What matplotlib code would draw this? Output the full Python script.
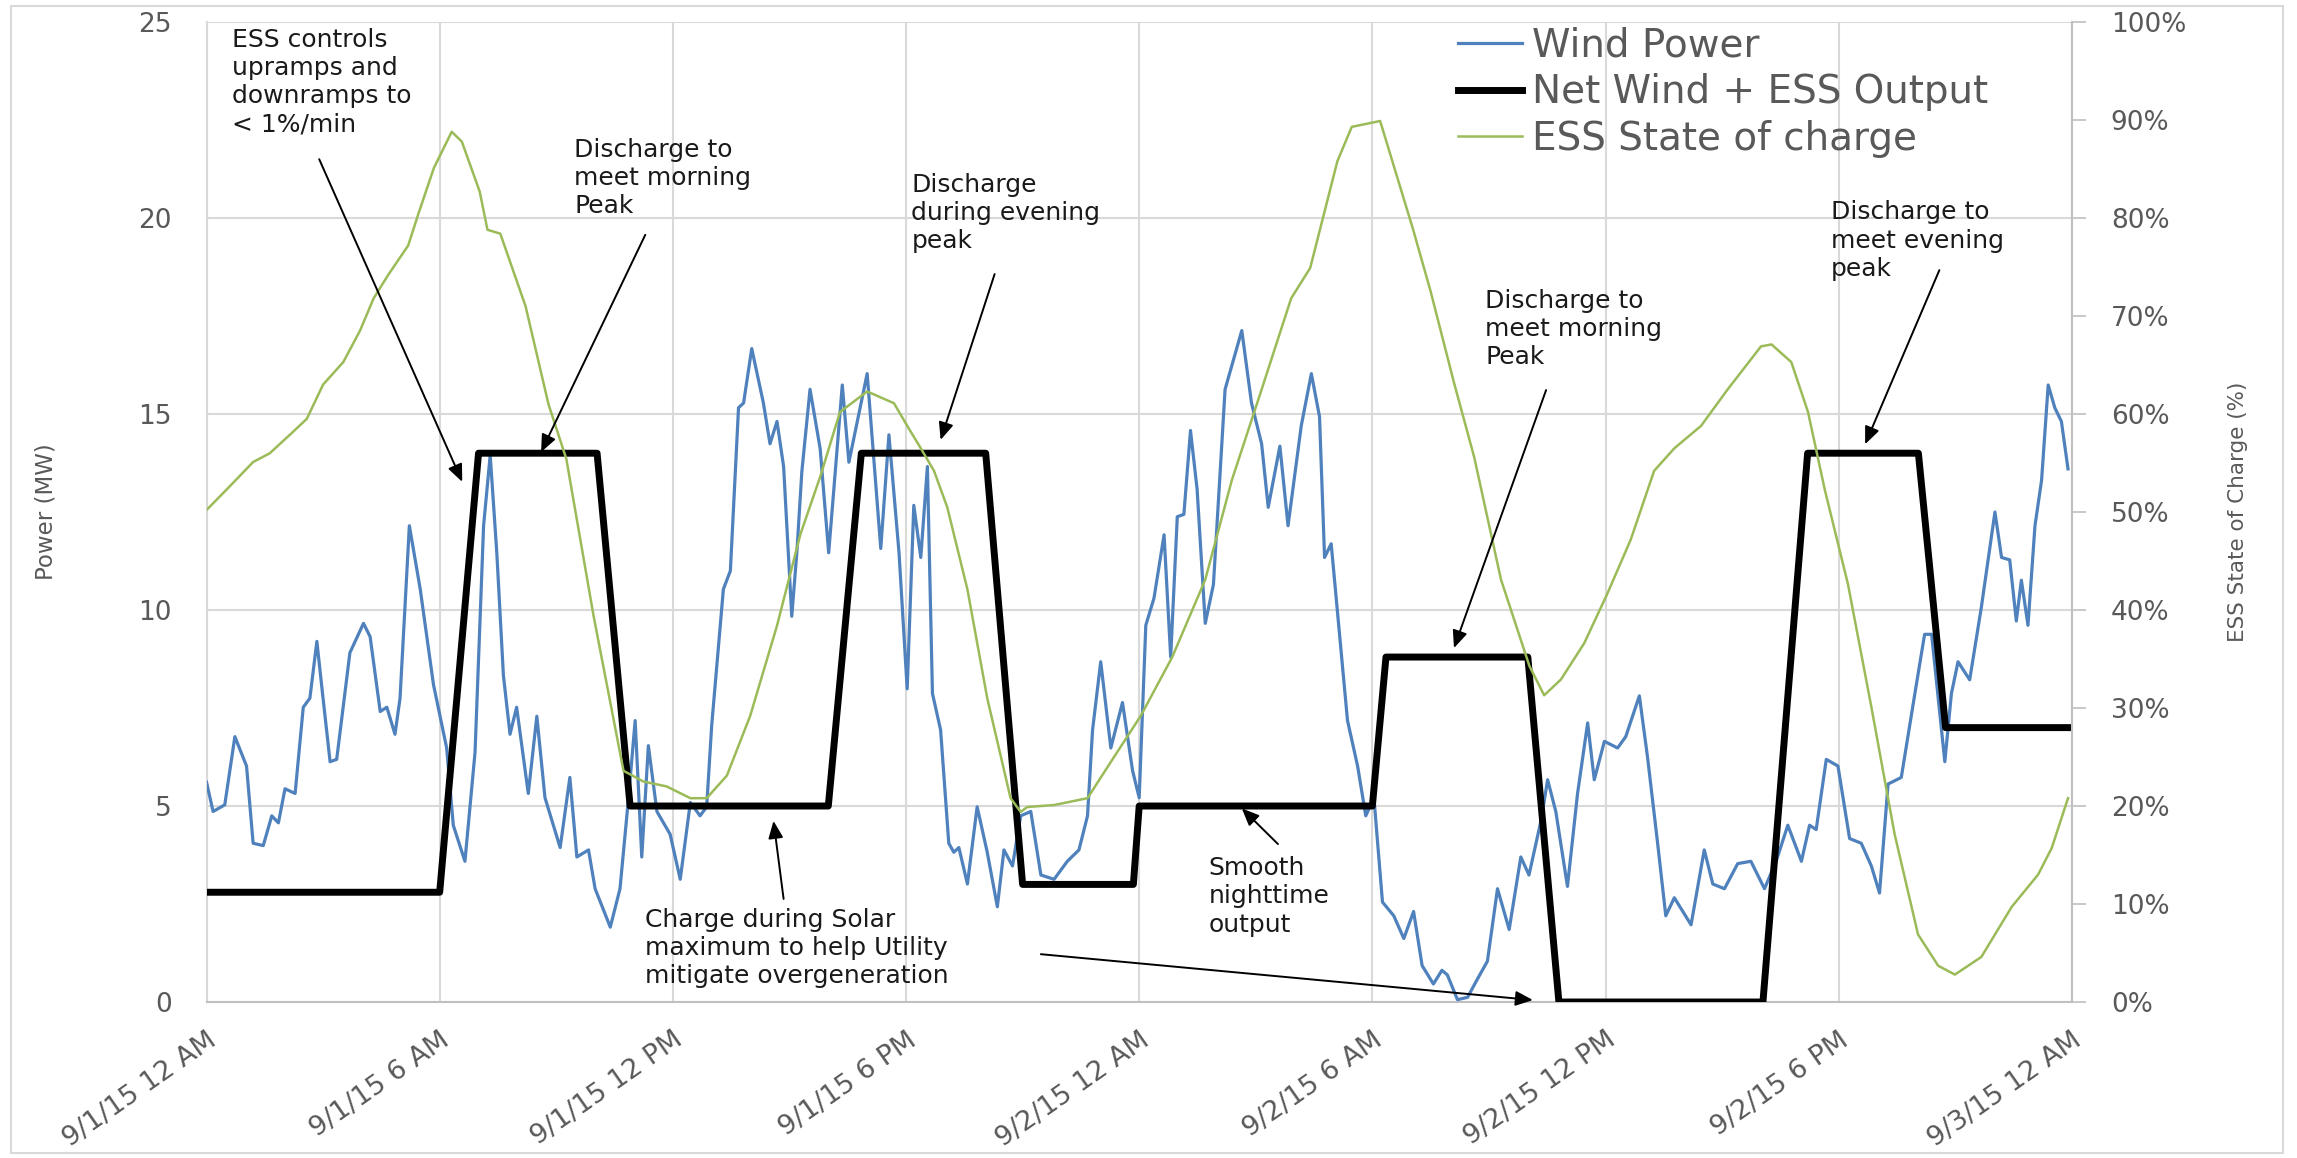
import matplotlib
matplotlib.use("Agg")
import matplotlib.pyplot as plt
from matplotlib.patches import Rectangle
from matplotlib.ticker import FuncFormatter

# x axis is hours after 9/1/15 12 AM
tick_hours = [0, 6, 12, 18, 24, 30, 36, 42, 48]
tick_labels = ["9/1/15 12 AM", "9/1/15 6 AM", "9/1/15 12 PM", "9/1/15 6 PM",
               "9/2/15 12 AM", "9/2/15 6 AM", "9/2/15 12 PM", "9/2/15 6 PM",
               "9/3/15 12 AM"]

wind_hours = [0.00, 0.17, 0.47, 0.73, 1.03, 1.20, 1.46, 1.68, 1.85, 2.02, 2.28, 2.49,
              2.66, 2.84, 2.96, 3.18, 3.35, 3.69, 4.04, 4.21, 4.47, 4.64, 4.85, 4.98,
              5.22, 5.50, 5.84, 6.18, 6.35, 6.65, 6.91, 7.13, 7.30, 7.47, 7.64, 7.81,
              7.98, 8.28, 8.50, 8.71, 9.10, 9.35, 9.53, 9.83, 10.00, 10.39, 10.64, 10.86,
              11.03, 11.20, 11.37, 11.59, 11.93, 12.19, 12.45, 12.70, 12.87, 13.00, 13.30, 13.48,
              13.69, 13.82, 14.03, 14.33, 14.50, 14.68, 14.85, 15.06, 15.19, 15.32, 15.53, 15.79,
              16.01, 16.36, 16.53, 17.00, 17.35, 17.56, 17.82, 18.03, 18.20, 18.38, 18.55, 18.68,
              18.89, 19.10, 19.23, 19.36, 19.58, 19.83, 20.09, 20.35, 20.52, 20.74, 20.95, 21.21,
              21.47, 21.81, 22.15, 22.45, 22.67, 22.80, 23.01, 23.27, 23.57, 23.83, 24.00, 24.17,
              24.38, 24.64, 24.81, 24.98, 25.15, 25.32, 25.49, 25.70, 25.91, 26.21, 26.64, 26.89,
              27.15, 27.32, 27.62, 27.83, 28.17, 28.43, 28.64, 28.77, 28.94, 29.36, 29.62, 29.83,
              30.04, 30.26, 30.55, 30.81, 31.06, 31.28, 31.57, 31.79, 31.93, 32.19, 32.45, 32.70,
              32.96, 33.22, 33.52, 33.82, 34.03, 34.34, 34.51, 34.72, 35.02, 35.28, 35.54, 35.71,
              35.97, 36.31, 36.52, 36.87, 37.08, 37.34, 37.55, 37.77, 38.20, 38.54, 38.76, 39.06,
              39.40, 39.74, 40.09, 40.39, 40.69, 41.04, 41.25, 41.42, 41.68, 41.98, 42.28, 42.58,
              42.84, 43.05, 43.27, 43.61, 43.96, 44.21, 44.39, 44.56, 44.73, 44.90, 45.07, 45.37,
              45.67, 46.02, 46.19, 46.40, 46.57, 46.70, 46.87, 47.05, 47.22, 47.39, 47.56, 47.73,
              47.90]
wind_mw = [5.61, 4.86, 5.03, 6.77, 6.02, 4.05, 3.99, 4.75, 4.57, 5.44, 5.32, 7.52,
           7.75, 9.20, 8.10, 6.13, 6.19, 8.91, 9.66, 9.32, 7.41, 7.52, 6.83, 7.75,
           12.15, 10.53, 8.10, 6.48, 4.51, 3.59, 6.37, 12.15, 13.95, 11.46, 8.33, 6.83,
           7.52, 5.32, 7.29, 5.21, 3.94, 5.73, 3.70, 3.88, 2.89, 1.91, 2.89, 5.21,
           7.18, 3.70, 6.54, 4.86, 4.28, 3.13, 5.09, 4.75, 4.98, 7.06, 10.53, 11.00,
           15.16, 15.28, 16.67, 15.28, 14.24, 14.81, 13.66, 9.84, 11.46, 13.54, 15.63, 14.12,
           11.46, 15.74, 13.77, 16.03, 11.57, 14.47, 11.46, 7.99, 12.67, 11.34, 13.66, 7.87,
           6.94, 4.05, 3.82, 3.94, 3.01, 4.98, 3.82, 2.43, 3.88, 3.47, 4.75, 4.86,
           3.24, 3.13, 3.59, 3.88, 4.75, 6.94, 8.68, 6.48, 7.64, 5.90, 5.21, 9.61,
           10.30, 11.92, 8.80, 12.38, 12.44, 14.58, 13.08, 9.66, 10.65, 15.63, 17.13, 15.28,
           14.24, 12.62, 14.18, 12.15, 14.70, 16.03, 14.93, 11.34, 11.69, 7.18, 6.02, 4.75,
           5.21, 2.55, 2.20, 1.62, 2.31, 0.93, 0.46, 0.81, 0.69, 0.06, 0.12, 0.58,
           1.04, 2.89, 1.85, 3.70, 3.24, 4.63, 5.67, 4.86, 2.95, 5.32, 7.12, 5.67,
           6.65, 6.48, 6.77, 7.81, 6.25, 4.05, 2.20, 2.66, 1.97, 3.88, 3.01, 2.89,
           3.53, 3.59, 2.89, 3.59, 4.51, 3.59, 4.51, 4.40, 6.19, 6.02, 4.17, 4.05,
           3.47, 2.78, 5.56, 5.73, 7.87, 9.38, 9.38, 7.75, 6.13, 7.87, 8.68, 8.22,
           10.07, 12.50, 11.34, 11.28, 9.72, 10.76, 9.61, 12.15, 13.31, 15.74, 15.16, 14.81,
           13.60]

net_hours = [0.0, 6.0, 7.0, 10.05, 10.9, 16.0, 16.85, 20.05, 21.0, 23.85, 24.0,
             30.0, 30.35, 34.0, 34.8, 40.05, 41.2, 44.05, 44.75, 48.0]
net_mw = [2.8, 2.8, 14.0, 14.0, 5.0, 5.0, 14.0, 14.0, 3.0, 3.0, 5.0,
          5.0, 8.8, 8.8, 0.0, 0.0, 14.0, 14.0, 7.0, 7.0]

soc_hours = [0.00, 0.52, 1.20, 1.63, 2.15, 2.58, 3.00, 3.52, 3.95, 4.30, 4.66, 5.19,
             5.45, 5.85, 6.31, 6.57, 7.03, 7.23, 7.56, 8.21, 8.80, 9.26, 9.96, 10.73,
             11.24, 11.84, 12.45, 12.87, 13.39, 13.99, 14.68, 15.28, 15.80, 16.30, 17.00, 17.69,
             18.03, 18.38, 18.72, 19.06, 19.58, 20.09, 20.69, 20.95, 21.12, 21.81, 22.67, 23.27,
             24.04, 24.85, 25.70, 26.38, 27.15, 27.91, 28.40, 29.10, 29.47, 30.20, 31.05, 31.50,
             32.10, 32.62, 33.31, 34.04, 34.42, 34.85, 35.45, 36.05, 36.65, 37.25, 37.77, 38.46,
             39.14, 40.00, 40.27, 40.78, 41.21, 41.64, 42.24, 42.84, 43.44, 44.04, 44.56, 44.99,
             45.67, 46.45, 47.13, 47.48, 47.90]
soc_pct = [50.2, 52.3, 55.1, 56.0, 57.9, 59.5, 63.0, 65.3, 68.5, 71.8, 74.1, 77.2,
           80.4, 85.1, 88.8, 87.8, 82.7, 78.8, 78.4, 71.0, 61.0, 55.4, 39.4, 23.6,
           22.5, 22.0, 20.8, 20.8, 23.1, 29.2, 38.4, 47.7, 53.7, 60.2, 62.3, 61.1,
           58.8, 56.5, 54.2, 50.5, 42.1, 31.0, 20.8, 19.4, 19.9, 20.1, 20.8, 24.5,
           29.2, 35.2, 43.1, 53.2, 62.5, 71.8, 74.9, 85.8, 89.3, 89.9, 78.8, 72.5,
           63.2, 55.6, 43.1, 34.3, 31.3, 32.9, 36.6, 41.7, 47.2, 54.2, 56.5, 58.8,
           62.5, 66.9, 67.1, 65.3, 60.2, 52.3, 42.6, 30.1, 17.1, 6.9, 3.7, 2.8,
           4.6, 9.7, 13.0, 15.7, 20.8]

# (text, text top-left, list of arrows as (tail, tip)) in hours / MW
notes = [
    ("ESS controls\nupramps and\ndownramps to\n< 1%/min", (0.65, 24.85),
     [((2.9, 21.5), (6.58, 13.27))]),
    ("Discharge to\nmeet morning\nPeak", (9.46, 22.05),
     [((11.29, 19.57), (8.61, 14.03))]),
    ("Discharge\nduring evening\npeak", (18.14, 21.15),
     [((20.28, 18.57), (18.89, 14.34))]),
    ("Discharge to\nmeet morning\nPeak", (32.9, 18.2),
     [((34.47, 15.61), (32.1, 9.03))]),
    ("Discharge to\nmeet evening\npeak", (41.8, 20.45),
     [((44.59, 18.67), (42.68, 14.23))]),
    ("Charge during Solar\nmaximum to help Utility\nmitigate overgeneration", (11.29, 2.4),
     [((14.85, 2.63), (14.59, 4.62)), ((21.47, 1.22), (34.13, 0.05))]),
    ("Smooth\nnighttime\noutput", (25.79, 3.72),
     [((27.57, 4.03), (26.64, 4.94))]),
]

GRID = "#d9d9d9"
AXIS = "#bfbfbf"
LABEL = "#595959"

fig = plt.figure(figsize=(22.97, 11.58), dpi=100)
fig.patches.append(Rectangle((0.0048, 0.004), 0.989, 0.991, transform=fig.transFigure,
                             fill=False, edgecolor=GRID, lw=1.5))

ax = fig.add_axes([0.0899, 0.1347, 0.8121, 0.8463])
ax.plot(wind_hours, wind_mw, color="#4f81bd", lw=2.3, label="Wind Power", zorder=3)
ax.plot(net_hours, net_mw, color="black", lw=5, label="Net Wind + ESS Output", zorder=4)
ax.set_xlim(0, 48)
ax.set_ylim(0, 25)
ax.set_xticks(tick_hours)
ax.set_xticklabels(tick_labels, rotation=35, ha="right", rotation_mode="anchor")
ax.set_yticks(range(0, 26, 5))
ax.grid(True, color=GRID, lw=1.5)
ax.set_axisbelow(True)
ax.tick_params(axis="x", length=0, pad=18, labelsize=19.5, labelcolor=LABEL)
ax.tick_params(axis="y", length=0, pad=25, labelsize=19, labelcolor=LABEL)
for side in ("top", "right"):
    ax.spines[side].set_visible(False)
ax.spines["left"].set_color(GRID)
ax.spines["left"].set_linewidth(1.5)
ax.spines["bottom"].set_color(AXIS)
ax.spines["bottom"].set_linewidth(1.5)

ax2 = ax.twinx()
ax2.plot(soc_hours, soc_pct, color="#9bbb59", lw=1.8, label="ESS State of charge")
ax2.set_ylim(0, 100)
ax2.set_yticks(range(0, 101, 10))
ax2.yaxis.set_major_formatter(FuncFormatter(lambda v, p: "{0}%".format(int(v))))
ax2.tick_params(axis="y", length=10, width=1.2, color=AXIS, pad=18, labelsize=19,
                labelcolor=LABEL)
for side in ("top", "left", "bottom"):
    ax2.spines[side].set_visible(False)
ax2.spines["right"].set_color(AXIS)
ax2.spines["right"].set_linewidth(1.5)

fig.text(46 / 2297, 0.5579, "Power (MW)", rotation=90, ha="center", va="center",
         fontsize=16.5, color=LABEL)
fig.text(2238 / 2297, 0.5579, "ESS State of Charge (%)", rotation=90, ha="center",
         va="center", fontsize=15.5, color=LABEL)

for text, (tx, ty), arrows in notes:
    ax2.text(tx, ty, text, transform=ax.transData, ha="left", va="top", fontsize=18,
             color="#1a1a1a", linespacing=1.22, zorder=6)
    for tail, tip in arrows:
        ax2.annotate("", xy=tip, xytext=tail, xycoords=ax.transData,
                     textcoords=ax.transData,
                     arrowprops=dict(arrowstyle="-|>,head_length=0.7,head_width=0.3",
                                     color="black", lw=1.4, mutation_scale=15,
                                     shrinkA=0, shrinkB=0))

h1, l1 = ax.get_legend_handles_labels()
h2, l2 = ax2.get_legend_handles_labels()
fig.legend(h1 + h2, l1 + l2, loc="upper left", bbox_to_anchor=(0.6347, 0.977),
           frameon=False, fontsize=28, handlelength=1.65, handletextpad=0.25,
           labelspacing=0.22, borderpad=0, borderaxespad=0, labelcolor=LABEL)

fig.savefig("out.png", dpi=100)
plt.close(fig)
